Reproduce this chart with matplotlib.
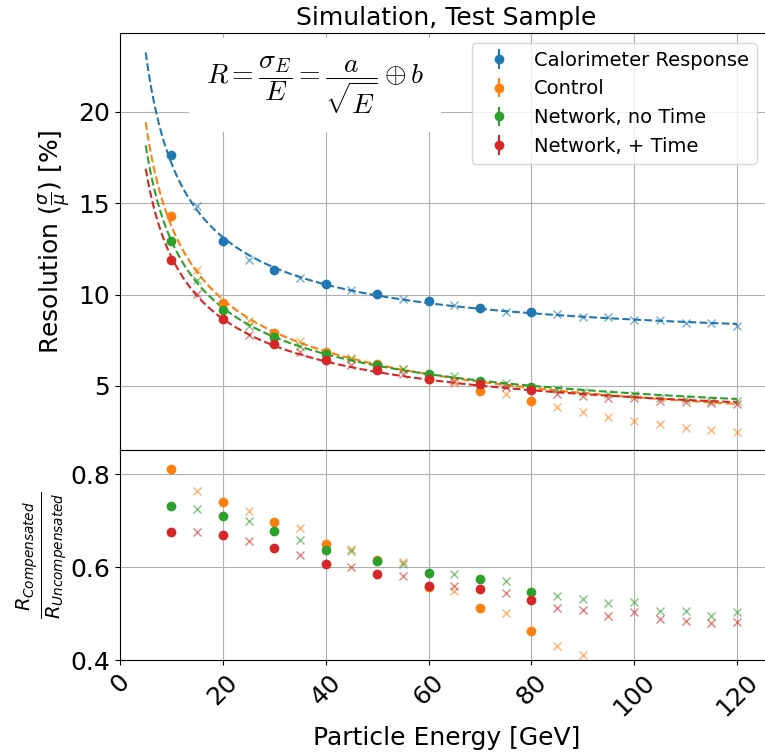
import numpy as np
import matplotlib
matplotlib.use("Agg")
import matplotlib.pyplot as plt

# energies: circles = fit energies, crosses = held-out energies
E_circ = [10, 20, 30, 40, 50, 60, 70, 80]
E_cross = [15, 25, 35, 45, 55, 65, 75, 85, 90, 95, 100, 105, 110, 115, 120]

labels = ['Calorimeter Response', 'Control', 'Network, no Time', 'Network, + Time']
colors = ['tab:blue', 'tab:orange', 'tab:green', 'tab:red']

res_circ = [
    [17.63, 12.92, 11.34, 10.56, 10.03, 9.64, 9.24, 9.05],
    [14.29, 9.56, 7.91, 6.87, 6.18, 5.38, 4.74, 4.18],
    [12.91, 9.18, 7.69, 6.73, 6.14, 5.67, 5.30, 4.95],
    [11.91, 8.65, 7.27, 6.40, 5.87, 5.40, 5.10, 4.79],
]
res_cross = [
    [14.85, 11.87, 10.93, 10.23, 9.73, 9.45, 9.05, 8.93, 8.78, 8.78, 8.60, 8.60, 8.47, 8.47, 8.29],
    [11.33, 8.56, 7.47, 6.54, 5.94, 5.18, 4.54, 3.84, 3.60, 3.29, 3.09, 2.91, 2.72, 2.60, 2.50],
    [10.78, 8.29, 7.20, 6.50, 5.91, 5.52, 5.16, 4.81, 4.67, 4.58, 4.51, 4.35, 4.28, 4.19, 4.17],
    [10.02, 7.78, 6.84, 6.14, 5.65, 5.29, 4.93, 4.58, 4.46, 4.35, 4.33, 4.20, 4.10, 4.07, 3.99],
]
err = 0.05  # errors are tiny, barely visible

# fit parameters R = a/sqrt(E) (+) b
fit_a = [49.5, 43.4, 40.3, 37.4]
fit_b = [7.07, 0.67, 2.2, 2.29]

fig = plt.figure(figsize=(7.65, 7.52), dpi=100)
W, H = 765, 752
left = 120 / W
width = 653 / W
ax = fig.add_axes([left, 1 - 450 / H, width, 417 / H])
axr = fig.add_axes([left, 1 - 660 / H, width, 210 / H], sharex=ax)

E_line = np.linspace(5, 120, 300)
for k in range(4):
    R_line = np.sqrt(fit_a[k] ** 2 / E_line + fit_b[k] ** 2)
    ax.plot(E_line, R_line, '--', color=colors[k], lw=1.5)
    ax.errorbar(E_circ, res_circ[k], yerr=err, fmt='o', color=colors[k],
                markersize=6, label=labels[k])
    ax.plot(E_cross, res_cross[k], 'x', color=colors[k], alpha=0.6, markersize=6)

# ratio to uncompensated calorimeter response
base_c = np.array(res_circ[0])
base_x = np.array(res_cross[0])
for k in range(1, 4):
    axr.plot(E_circ, np.array(res_circ[k]) / base_c, 'o', color=colors[k], markersize=6)
    axr.plot(E_cross, np.array(res_cross[k]) / base_x, 'x', color=colors[k],
             alpha=0.6, markersize=6)

ax.set_xlim(0, 127)
ax.set_ylim(1.5, 24.3)
ax.set_yticks([5, 10, 15, 20])
ax.grid(True)
ax.tick_params(axis='y', labelsize=18)
plt.setp(ax.get_xticklabels(), visible=False)
ax.set_title('Simulation, Test Sample', fontsize=18)
ax.set_ylabel(r'Resolution $(\frac{\sigma}{\mu})$ [%]', fontsize=18)

ax.text(0.2986, 0.875, r'$R = \dfrac{\sigma_E}{E} = \dfrac{a}{\sqrt{E}} \oplus b$',
        transform=ax.transAxes, fontsize=20, ha='center', va='center',
        math_fontfamily='cm',
        bbox=dict(boxstyle='square,pad=0.6', facecolor='white', edgecolor='none'))

ax.legend(loc='upper right', bbox_to_anchor=(757 / W, 1 - 43 / H),
          bbox_transform=fig.transFigure, borderaxespad=0, fontsize=14)

axr.set_ylim(0.4, 0.852)
axr.set_yticks([0.4, 0.6, 0.8])
axr.set_xticks([0, 20, 40, 60, 80, 100, 120])
axr.grid(True)
axr.tick_params(axis='both', labelsize=18)
plt.setp(axr.get_xticklabels(), rotation=45)
axr.set_xlabel('Particle Energy [GeV]', fontsize=18)
axr.set_ylabel(r'$\frac{R_{Compensated}}{R_{Uncompensated}}$', fontsize=20, labelpad=1)

fig.savefig('out.png', dpi=100)
